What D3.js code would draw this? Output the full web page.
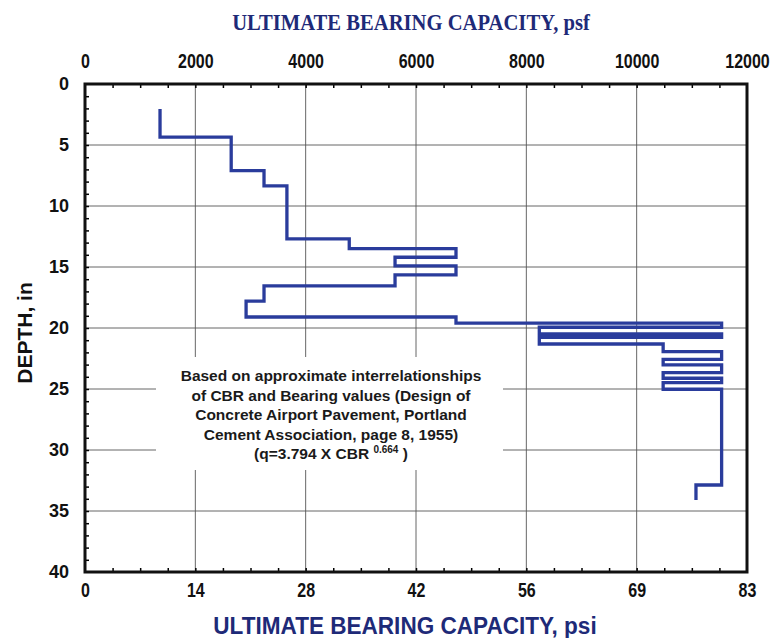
<!DOCTYPE html>
<html>
<head>
<meta charset="utf-8">
<script src="https://cdn.jsdelivr.net/npm/d3@7"></script>
<style>
  body { margin: 0; background: #fff; }
</style>
</head>
<body>
<div id="chart"></div>
<script>
// layer boundaries (depth, in) and the capacity of each layer (psf)
var layerTop    = [2.05, 4.35, 7.1, 8.35, 12.7, 13.5, 14.2, 14.9, 15.65, 16.55, 17.8, 19.1, 19.6, 19.94, 20.49, 20.76, 21.31, 21.94, 22.57, 23.03, 23.66, 24.12, 24.48, 25.02, 32.87];
var layerBottom = [4.35, 7.1, 8.35, 12.7, 13.5, 14.2, 14.9, 15.65, 16.55, 17.8, 19.1, 19.6, 19.94, 20.49, 20.76, 21.31, 21.94, 22.57, 23.03, 23.66, 24.12, 24.48, 25.02, 32.87, 34.1];
var capacityPsf = [1360, 2650, 3245, 3660, 4790, 6725, 5620, 6725, 5620, 3245, 2920, 6725, 11540, 8235, 11540, 8235, 10480, 11540, 10480, 11540, 10480, 11540, 10480, 11540, 11075];

var psfTicks = [0, 2000, 4000, 6000, 8000, 10000, 12000];
var psiTickLabels = ["0", "14", "28", "42", "56", "69", "83"];
var depthTicks = [0, 5, 10, 15, 20, 25, 30, 35, 40];

var noteLines = [
  "Based on approximate interrelationships",
  "of CBR and Bearing values (Design of",
  "Concrete Airport Pavement, Portland",
  "Cement Association, page 8, 1955)"
];

var margin = { top: 84, right: 30, bottom: 66, left: 85 };
var W = 777, H = 638;
var width = W - margin.left - margin.right,
    height = H - margin.top - margin.bottom;
var sans = "Liberation Sans, Arial, sans-serif";

var svg = d3.select("#chart")
    .append("svg")
    .attr("width", W)
    .attr("height", H);

var g = svg.append("g")
    .attr("transform", "translate(" + margin.left + "," + margin.top + ")");

var x = d3.scaleLinear().domain([0, 12000]).range([0, width]);
var y = d3.scaleLinear().domain([0, 40]).range([0, height]);

// grid
g.append("g")
    .selectAll("line.vg")
    .data(psfTicks.slice(1, -1))
    .enter().append("line")
    .attr("x1", function(d) { return x(d); })
    .attr("x2", function(d) { return x(d); })
    .attr("y1", 0).attr("y2", height)
    .attr("stroke", "#555").attr("stroke-width", 0.9);
g.append("g")
    .selectAll("line.hg")
    .data(depthTicks.slice(1, -1))
    .enter().append("line")
    .attr("y1", function(d) { return y(d); })
    .attr("y2", function(d) { return y(d); })
    .attr("x1", 0).attr("x2", width)
    .attr("stroke", "#555").attr("stroke-width", 0.9);

// minor ticks, pointing inward
var minorX = d3.range(500, 12000, 500);
var minorY = d3.range(1, 40, 1);
g.append("g")
    .call(d3.axisTop(x).tickValues(minorX).tickSize(-4).tickFormat(""))
    .call(function(s) { s.select(".domain").remove(); s.selectAll("line").attr("stroke-width", 1.5); });
g.append("g")
    .attr("transform", "translate(0," + height + ")")
    .call(d3.axisBottom(x).tickValues(minorX).tickSize(-4).tickFormat(""))
    .call(function(s) { s.select(".domain").remove(); s.selectAll("line").attr("stroke-width", 1.5); });
g.append("g")
    .call(d3.axisLeft(y).tickValues(minorY).tickSize(-4).tickFormat(""))
    .call(function(s) { s.select(".domain").remove(); s.selectAll("line").attr("stroke-width", 1.5); });

// white box behind the note
g.append("rect")
    .attr("x", 71).attr("y", 273)
    .attr("width", 347).attr("height", 113)
    .attr("fill", "#fff");

// step profile
var pts = [];
for (var i = 0; i < capacityPsf.length; i++) {
    pts.push([capacityPsf[i], layerTop[i]]);
    pts.push([capacityPsf[i], layerBottom[i]]);
}
g.append("path")
    .datum(pts)
    .attr("fill", "none")
    .attr("stroke", "#2a3c9c")
    .attr("stroke-width", 3.3)
    .attr("stroke-linejoin", "miter")
    .attr("d", d3.line()
        .x(function(d) { return x(d[0]); })
        .y(function(d) { return y(d[1]); }));

// frame
g.append("rect")
    .attr("x", 0).attr("y", 0)
    .attr("width", width).attr("height", height)
    .attr("fill", "none")
    .attr("stroke", "#111")
    .attr("stroke-width", 3);

function narrowLabels(s) {
    s.select(".domain").remove();
    s.selectAll("text")
      .attr("font-family", sans)
      .attr("font-size", "20px").attr("font-weight", "bold").attr("fill", "#111")
      .attr("transform", "scale(0.8,1)");
}

// top axis labels (psf)
g.append("g")
    .call(d3.axisTop(x).tickValues(psfTicks).tickSize(0).tickPadding(16).tickFormat(d3.format("d")))
    .call(narrowLabels);

// bottom axis labels (psi)
g.append("g")
    .attr("transform", "translate(0," + height + ")")
    .call(d3.axisBottom(x).tickValues(psfTicks).tickSize(0).tickPadding(11)
        .tickFormat(function(d, i) { return psiTickLabels[i]; }))
    .call(narrowLabels);

// left axis labels
g.append("g")
    .call(d3.axisLeft(y).tickValues(depthTicks).tickSize(0).tickPadding(16))
    .call(function(s) {
        s.select(".domain").remove();
        s.selectAll("text")
          .attr("font-family", sans)
          .attr("font-size", "18px").attr("font-weight", "bold").attr("fill", "#111");
    });

// titles
svg.append("text")
    .attr("x", 411).attr("y", 30)
    .attr("text-anchor", "middle")
    .attr("font-family", "Liberation Serif, Times New Roman, serif")
    .attr("font-weight", "bold")
    .attr("font-size", "24px")
    .attr("fill", "#1e2a78")
    .attr("transform", "translate(411,0) scale(0.86,1) translate(-411,0)")
    .text("ULTIMATE BEARING CAPACITY, psf");

svg.append("text")
    .attr("x", 405).attr("y", 634)
    .attr("text-anchor", "middle")
    .attr("font-family", sans)
    .attr("font-weight", "bold")
    .attr("font-size", "24px")
    .attr("fill", "#1e2a78")
    .attr("transform", "translate(405,0) scale(0.94,1) translate(-405,0)")
    .text("ULTIMATE BEARING CAPACITY, psi");

svg.append("text")
    .attr("transform", "translate(32,333) rotate(-90)")
    .attr("text-anchor", "middle")
    .attr("font-family", sans)
    .attr("font-weight", "bold")
    .attr("font-size", "21px")
    .attr("fill", "#111")
    .text("DEPTH, in");

// note
var note = svg.append("g")
    .attr("font-family", sans)
    .attr("font-weight", "bold")
    .attr("font-size", "15.5px")
    .attr("fill", "#1a1a1a")
    .attr("text-anchor", "middle");
note.selectAll("text.ln")
    .data(noteLines)
    .enter().append("text")
    .attr("x", 331)
    .attr("y", function(d, i) { return 381 + i * 19.5; })
    .text(function(d) { return d; });
var f = note.append("text")
    .attr("x", 331)
    .attr("y", 459);
f.append("tspan").text("(q=3.794 X CBR ");
f.append("tspan").attr("font-size", "10px").attr("dy", -6).text("0.664");
f.append("tspan").attr("dy", 6).text(" )");
</script>
</body>
</html>
